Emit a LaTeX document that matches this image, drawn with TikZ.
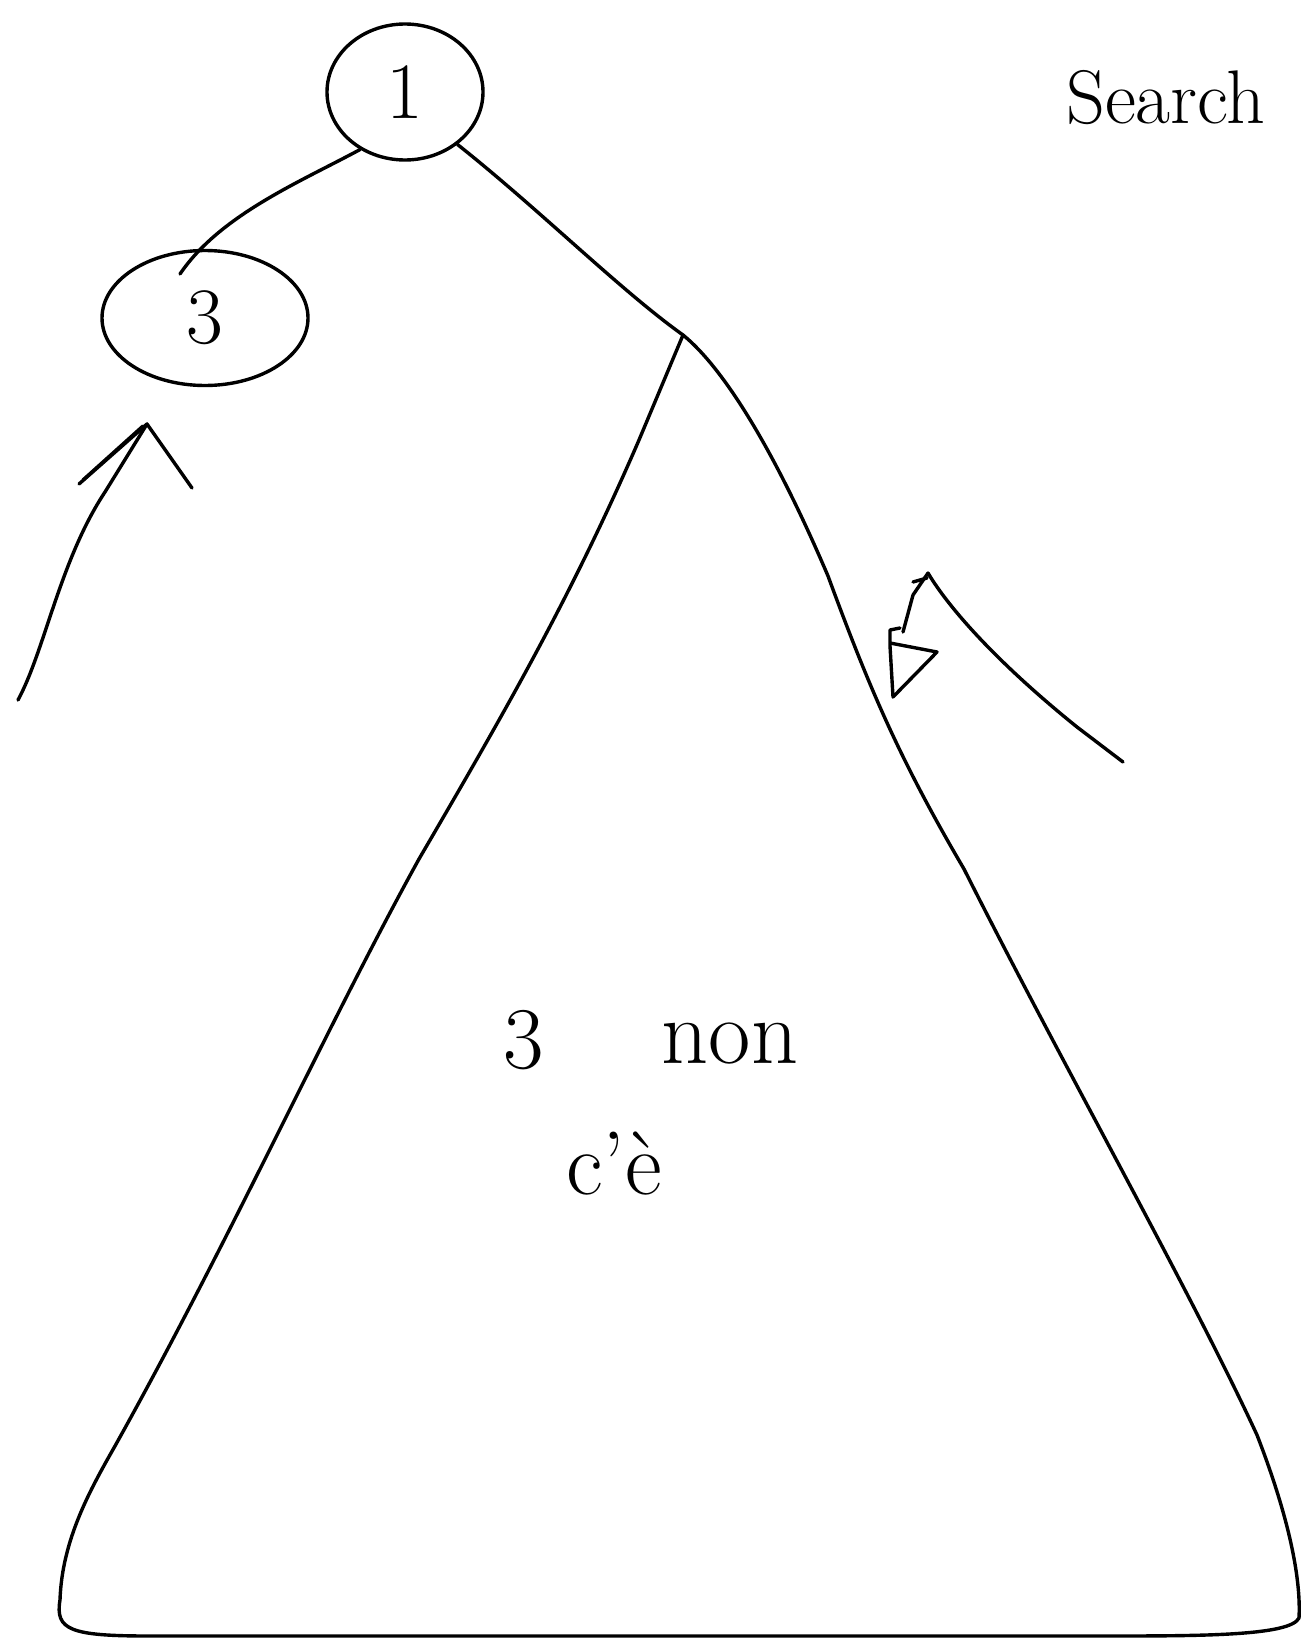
\documentclass[tikz,border=0pt]{standalone}
\usetikzlibrary{shapes.geometric,calc}
\begin{document}
\begin{tikzpicture}[x=1pt,y=-1pt,
  ink/.style={line width=3.4pt,line cap=round,line join=round,black},
  oval/.style={ink,draw,ellipse,inner sep=0pt},
  hand/.style={font=\fontsize{80}{90}\selectfont,inner sep=0pt}]
\useasboundingbox (0,0) rectangle (1301,1643);
\clip (0,0) rectangle (1301,1643);
\fill[white] (0,0) rectangle (1301,1643);

% nodes
\node[oval,minimum width=156pt,minimum height=136pt] (n1) at (405,92) {};
\node[hand] (l1) at (n1) {1};
\node[oval,minimum width=206pt,minimum height=135pt] (n3) at (205,318) {};
\node[hand] (l3) at (n3) {3};

\coordinate (apex) at (683,335);
\coordinate (e3) at (180,274);

% edges
\draw[ink] (n1.232) .. controls (300,182) and (220,215) .. (e3);
\draw[ink] (n1.-45) .. controls (540,210) and (620,290) .. (apex);

% subtree triangle
\draw[ink] (apex) .. controls (720,365) and (770,440) .. (828,576)
  .. controls (870,690) and (900,760) .. (964,869)
  .. controls (1060,1060) and (1190,1290) .. (1257,1435)
  .. controls (1290,1520) and (1301,1580) .. (1299,1618)
  .. controls (1290,1636) and (1200,1636) .. (1100,1636)
  -- (150,1636)
  .. controls (70,1636) and (55,1630) .. (60,1600)
  .. controls (62,1540) and (90,1490) .. (115,1446)
  .. controls (230,1240) and (330,1020) .. (419,859)
  .. controls (500,720) and (570,600) .. (639,440)
  -- (683,335);

% texts in subtree
\node[hand,font=\fontsize{88}{90}\selectfont] (t3) at (524,1040) {3};
\node[hand,font=\fontsize{92}{96}\selectfont] (tnon) at (730,1044) {non};
\node[hand,font=\fontsize{90}{96}\selectfont] (tce) at (614,1164) {c'è};

% Search text
\node[hand,font=\fontsize{76}{80}\selectfont,anchor=base west] (srch) at (1066,124) {Search};

% left arrow
\coordinate (la0) at (18,700);
\coordinate (la1) at (147,424);
\coordinate (lh1) at (79,484);
\coordinate (lh2) at (192,488);
\draw[ink] (la0) .. controls (45,650) and (60,560) .. (105,492) -- (la1);
\draw[ink] (lh1) -- (la1) -- (lh2);
\draw[ink] ($(lh1)+(4,-4)$) -- ($(la1)+(-4,2)$);

% right arrow scribble
\coordinate (rp) at (928,573);
\coordinate (re) at (1123,762);
\draw[ink] (rp) .. controls (950,610) and (1000,665) .. (1077,727) -- (re);
\draw[ink] (rp) -- (913,595) -- (903,632);
\draw[ink] (913,582) -- (927,578);
\draw[ink] (900,628) -- (890,630) -- (890,646) -- (893,697) -- (937,652) -- (890,643);
\end{tikzpicture}
\end{document}
